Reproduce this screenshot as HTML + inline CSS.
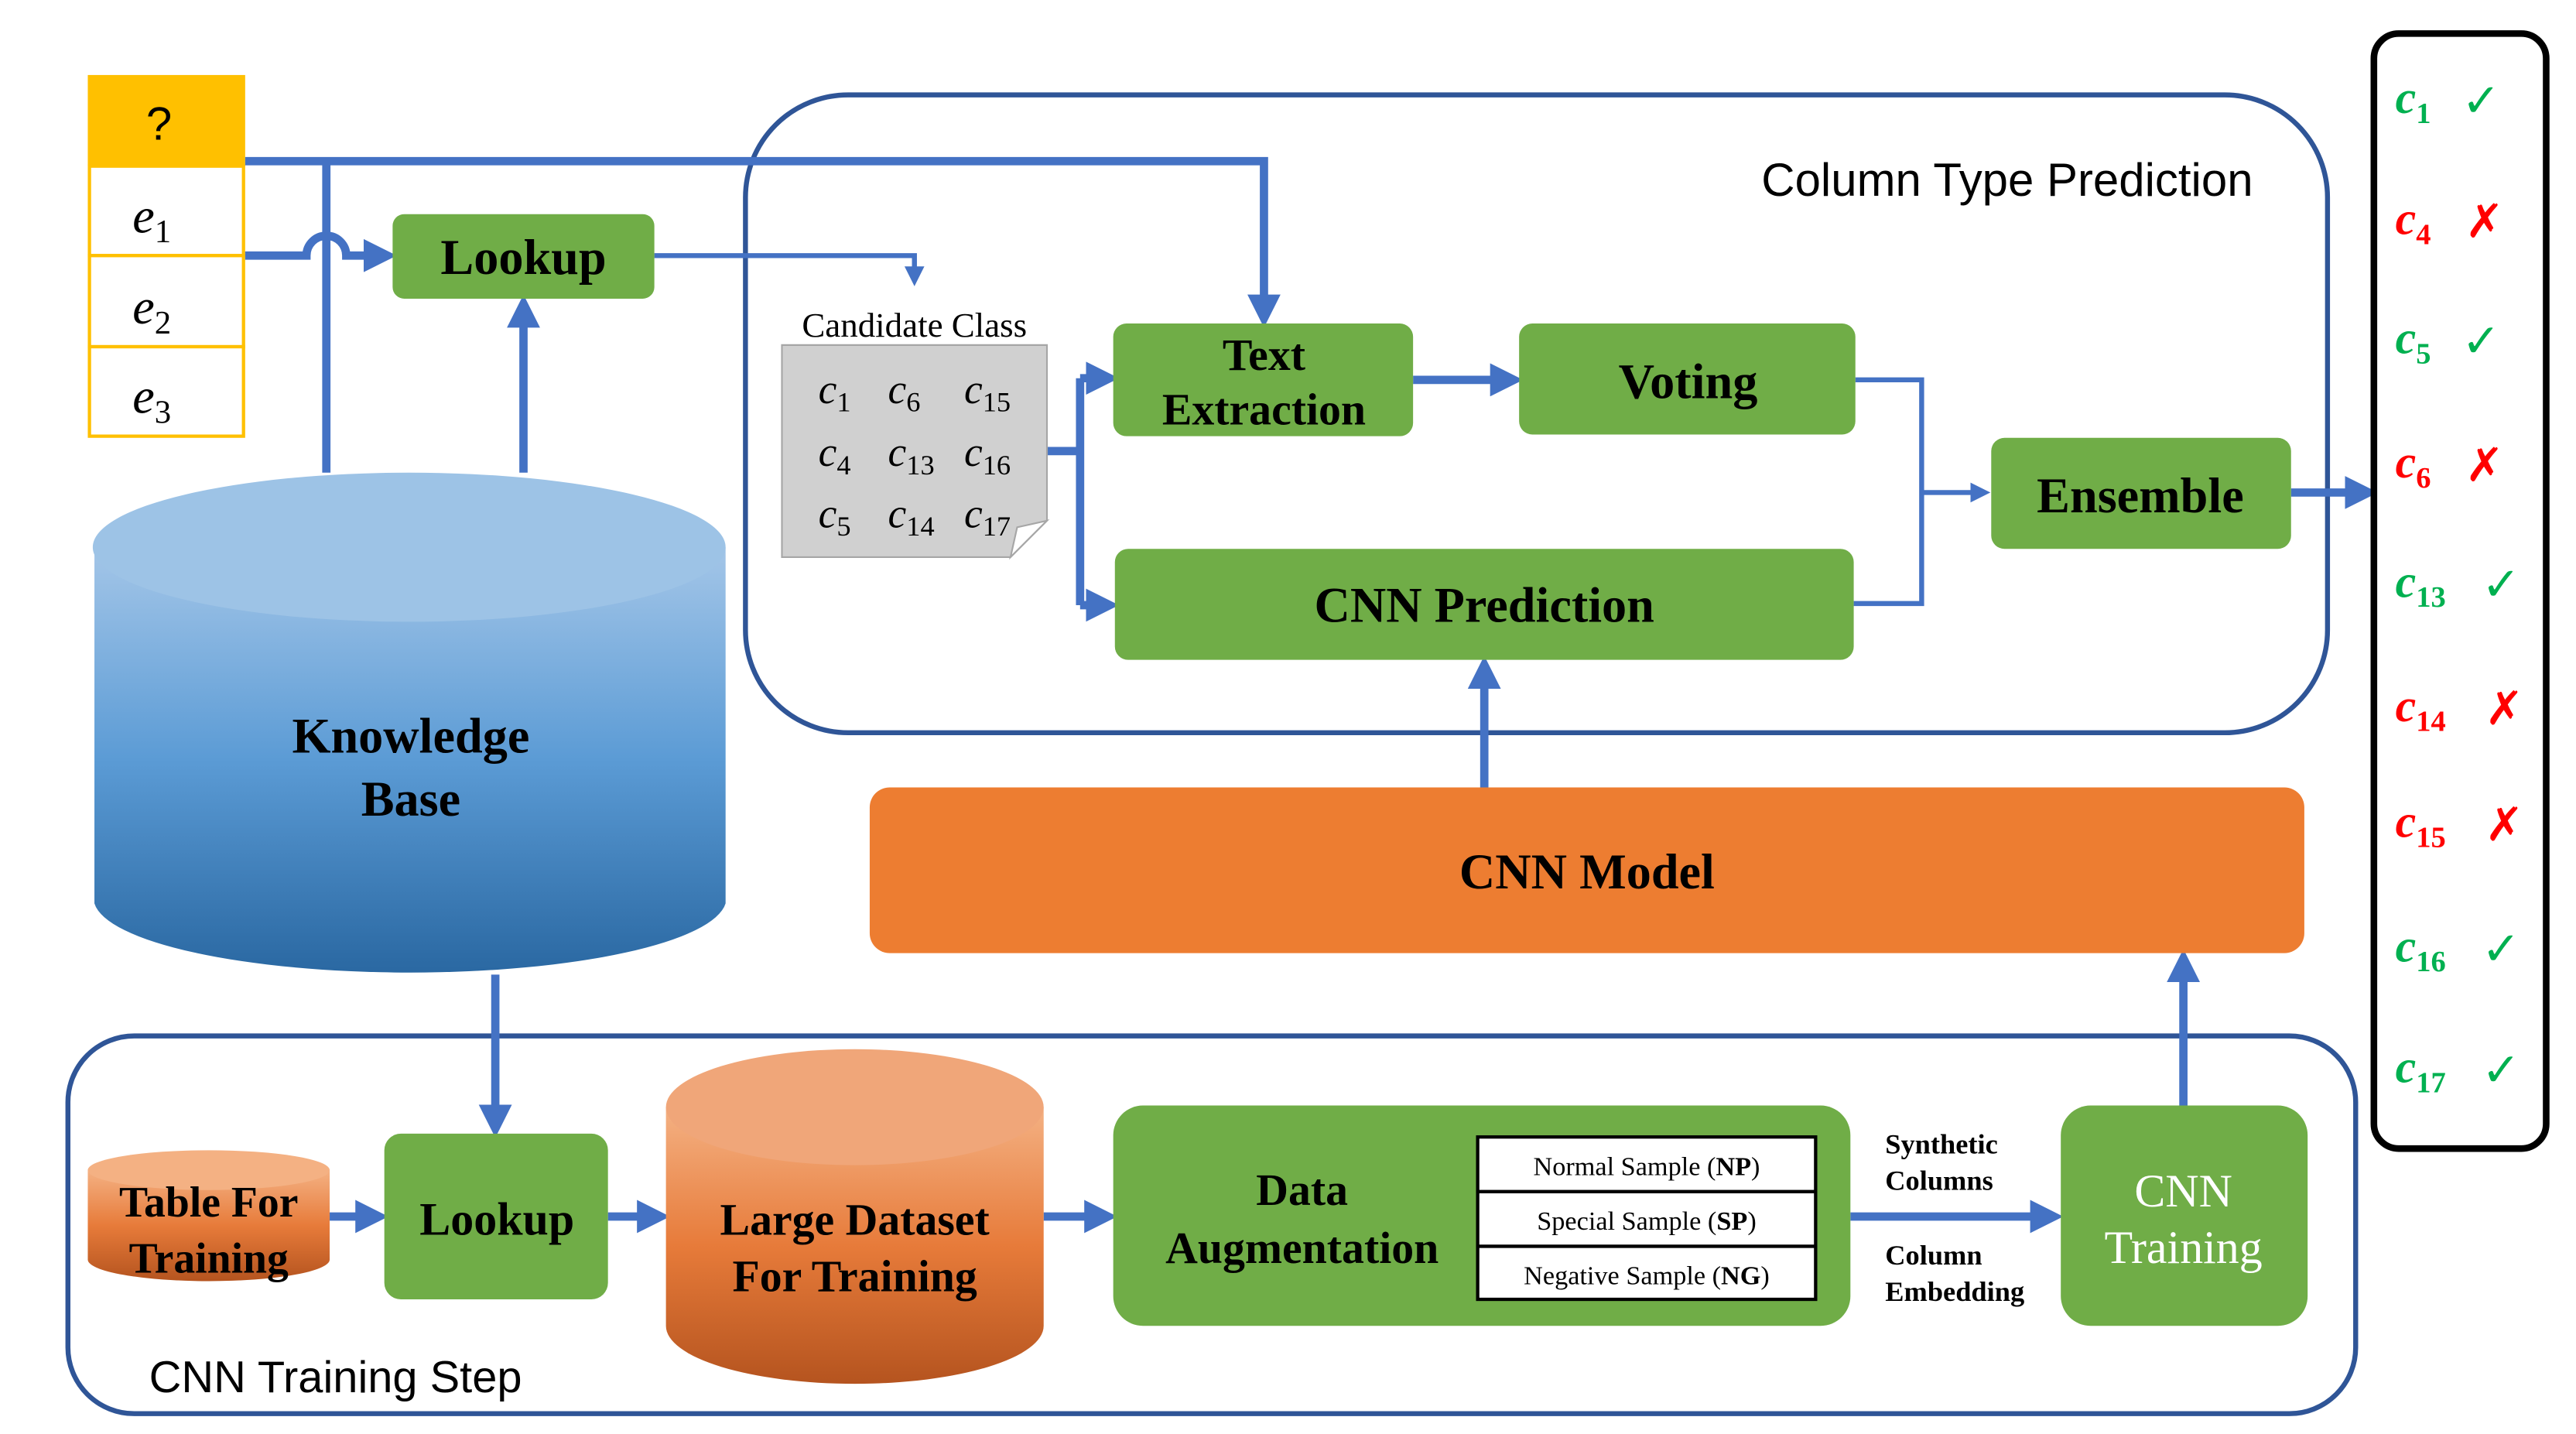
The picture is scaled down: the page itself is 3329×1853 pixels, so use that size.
<!DOCTYPE html>
<html><head><meta charset="utf-8"><style>
html,body{margin:0;padding:0;background:#fff;}
svg{display:block;}
.b{font-family:"Liberation Serif",serif;font-weight:bold;fill:#000;}
.m{font-family:"Liberation Serif",serif;font-style:italic;}
.s{font-family:"Liberation Sans",sans-serif;}
</style></head><body>
<svg width="3329" height="1853" viewBox="0 0 1555 865" xmlns="http://www.w3.org/2000/svg">
<defs>
<linearGradient id="kb" x1="0" y1="0" x2="0" y2="1"><stop offset="0" stop-color="#A4C6E8"/><stop offset="0.5" stop-color="#5B9BD5"/><stop offset="1" stop-color="#2A68A2"/></linearGradient>
<linearGradient id="or" x1="0" y1="0" x2="0" y2="1"><stop offset="0" stop-color="#F4B183"/><stop offset="0.5" stop-color="#E77B3A"/><stop offset="1" stop-color="#B5541F"/></linearGradient>
<marker id="a" markerWidth="4" markerHeight="4" refX="2.5" refY="2" orient="auto" markerUnits="strokeWidth"><path d="M0,0 L4,2 L0,4 z" fill="#4472C4"/></marker>
</defs>
<!-- panels -->
<rect x="450" y="57" width="955" height="385" rx="62" fill="none" stroke="#2F5597" stroke-width="3"/>
<text x="1360" y="118" text-anchor="end" class="s" font-size="28">Column Type Prediction</text>
<rect x="41" y="625" width="1381" height="228" rx="40" fill="none" stroke="#2F5597" stroke-width="3"/>
<text x="90" y="840" class="s" font-size="27">CNN Training Step</text>
<!-- question table -->
<rect x="53" y="45" width="95" height="55" fill="#FFC000"/>
<text x="96" y="84" text-anchor="middle" class="s" font-size="28">?</text>
<g fill="#fff" stroke="#FFC000" stroke-width="2">
<rect x="54" y="100" width="93" height="54"/><rect x="54" y="154" width="93" height="55"/><rect x="54" y="209" width="93" height="54"/></g>
<text x="80" y="140" class="m" font-size="30">e<tspan font-size="20" dy="6" font-style="normal">1</tspan></text>
<text x="80" y="195" class="m" font-size="30">e<tspan font-size="20" dy="6" font-style="normal">2</tspan></text>
<text x="80" y="249" class="m" font-size="30">e<tspan font-size="20" dy="6" font-style="normal">3</tspan></text>
<!-- knowledge base -->
<path d="M57,330 L57,545 A191,45 0 0 0 438,545 L438,330 Z" fill="url(#kb)"/>
<ellipse cx="247" cy="330" rx="191" ry="45" fill="#9DC3E6"/>
<text x="248" y="454" text-anchor="middle" class="b" font-size="30">Knowledge</text>
<text x="248" y="492" text-anchor="middle" class="b" font-size="30">Base</text>
<!-- arrows top -->
<g stroke="#4472C4" stroke-width="5" fill="none">
<path d="M148,97 L763,97 L763,190" marker-end="url(#a)"/>
<path d="M197,97 L197,285"/>
<path d="M148,154 L185,154 A12,12 0 0 1 209,154 L232,154" marker-end="url(#a)"/>
<path d="M316,285 L316,185" marker-end="url(#a)"/>
<path d="M395,154 L552,154 L552,168" stroke-width="3" marker-end="url(#a)"/>
<path d="M632,272 L652,272"/>
<path d="M652,228 L652,365"/>
<path d="M652,228 L668,228" marker-end="url(#a)"/>
<path d="M652,365 L668,365" marker-end="url(#a)"/>
<path d="M853,229 L912,229" marker-end="url(#a)"/>
<path d="M1120,229 L1160,229 L1160,364 L1119,364" stroke-width="3"/>
<path d="M1160,297 L1197,297" stroke-width="3" marker-end="url(#a)"/>
<path d="M1383,297 L1428,297" marker-end="url(#a)"/>
<path d="M896,475 L896,403" marker-end="url(#a)"/>
<path d="M299,588 L299,679" marker-end="url(#a)"/>
<path d="M199,734 L227,734" marker-end="url(#a)"/>
<path d="M367,734 L397,734" marker-end="url(#a)"/>
<path d="M630,734 L667,734" marker-end="url(#a)"/>
<path d="M1117,734 L1238,734" marker-end="url(#a)"/>
<path d="M1318,667 L1318,580" marker-end="url(#a)"/>
</g>
<!-- lookup -->
<rect x="237" y="129" width="158" height="51" rx="7" fill="#70AD47"/>
<text x="316" y="165" text-anchor="middle" class="b" font-size="30">Lookup</text>
<!-- candidate -->
<text x="552" y="203" text-anchor="middle" font-family="Liberation Serif,serif" font-size="21">Candidate Class</text>
<path d="M472,208 L632,208 L632,314 L610,336 L472,336 Z" fill="#D0D0D0" stroke="#A6A6A6"/>
<path d="M610,336 L614,318 L632,314 Z" fill="#fff" stroke="#A6A6A6"/>
<g class="m" font-size="25">
<text x="494" y="243">c<tspan font-size="17" dy="5" font-style="normal">1</tspan></text>
<text x="536" y="243">c<tspan font-size="17" dy="5" font-style="normal">6</tspan></text>
<text x="582" y="243">c<tspan font-size="17" dy="5" font-style="normal">15</tspan></text>
<text x="494" y="281">c<tspan font-size="17" dy="5" font-style="normal">4</tspan></text>
<text x="536" y="281">c<tspan font-size="17" dy="5" font-style="normal">13</tspan></text>
<text x="582" y="281">c<tspan font-size="17" dy="5" font-style="normal">16</tspan></text>
<text x="494" y="318">c<tspan font-size="17" dy="5" font-style="normal">5</tspan></text>
<text x="536" y="318">c<tspan font-size="17" dy="5" font-style="normal">14</tspan></text>
<text x="582" y="318">c<tspan font-size="17" dy="5" font-style="normal">17</tspan></text>
</g>
<!-- green boxes -->
<g fill="#70AD47">
<rect x="672" y="195" width="181" height="68" rx="8"/>
<rect x="917" y="195" width="203" height="67" rx="8"/>
<rect x="1202" y="264" width="181" height="67" rx="8"/>
<rect x="673" y="331" width="446" height="67" rx="8"/>
<rect x="232" y="684" width="135" height="100" rx="10"/>
<rect x="672" y="667" width="445" height="133" rx="18"/>
<rect x="1244" y="667" width="149" height="133" rx="18"/>
</g>
<text x="763" y="223" text-anchor="middle" class="b" font-size="27">Text</text>
<text x="763" y="256" text-anchor="middle" class="b" font-size="27">Extraction</text>
<text x="1019" y="240" text-anchor="middle" class="b" font-size="30">Voting</text>
<text x="1292" y="309" text-anchor="middle" class="b" font-size="30">Ensemble</text>
<text x="896" y="375" text-anchor="middle" class="b" font-size="30">CNN Prediction</text>
<!-- CNN model -->
<rect x="525" y="475" width="866" height="100" rx="12" fill="#ED7D31"/>
<text x="958" y="536" text-anchor="middle" class="b" font-size="30">CNN Model</text>
<!-- bottom -->
<path d="M53,706 L53,760 A73,13 0 0 0 199,760 L199,706 Z" fill="url(#or)"/>
<ellipse cx="126" cy="706" rx="73" ry="12" fill="#F4B183"/>
<text x="126" y="734" text-anchor="middle" class="b" font-size="26">Table For</text>
<text x="126" y="768" text-anchor="middle" class="b" font-size="26">Training</text>
<text x="300" y="745" text-anchor="middle" class="b" font-size="28">Lookup</text>
<path d="M402,668 L402,800 A114,35 0 0 0 630,800 L630,668 Z" fill="url(#or)"/>
<ellipse cx="516" cy="668" rx="114" ry="35" fill="#F0A679"/>
<text x="516" y="745" text-anchor="middle" class="b" font-size="27">Large Dataset</text>
<text x="516" y="779" text-anchor="middle" class="b" font-size="27">For Training</text>
<text x="786" y="727" text-anchor="middle" class="b" font-size="27">Data</text>
<text x="786" y="762" text-anchor="middle" class="b" font-size="27">Augmentation</text>
<g fill="#fff" stroke="#000" stroke-width="2">
<rect x="892" y="686" width="204" height="33"/><rect x="892" y="719" width="204" height="33"/><rect x="892" y="752" width="204" height="32"/></g>
<g font-family="Liberation Serif,serif" font-size="16" text-anchor="middle">
<text x="994" y="709">Normal Sample (<tspan font-weight="bold">NP</tspan>)</text>
<text x="994" y="742">Special Sample (<tspan font-weight="bold">SP</tspan>)</text>
<text x="994" y="775">Negative Sample (<tspan font-weight="bold">NG</tspan>)</text>
</g>
<g class="b" font-size="17">
<text x="1138" y="696">Synthetic</text><text x="1138" y="718">Columns</text>
<text x="1138" y="763">Column</text><text x="1138" y="785">Embedding</text>
</g>
<text x="1318" y="728" text-anchor="middle" font-family="Liberation Serif,serif" font-size="28" fill="#fff">CNN</text>
<text x="1318" y="762" text-anchor="middle" font-family="Liberation Serif,serif" font-size="28" fill="#fff">Training</text>
<!-- result list -->
<rect x="1433" y="20" width="104" height="673" rx="15" fill="#fff" stroke="#000" stroke-width="4"/>
<g class="m" font-size="28" font-weight="bold">
<text x="1446" y="68" fill="#00B050">c<tspan font-size="18" dy="6" font-style="normal">1</tspan></text>
<text x="1446" y="141" fill="#FF0000">c<tspan font-size="18" dy="6" font-style="normal">4</tspan></text>
<text x="1446" y="213" fill="#00B050">c<tspan font-size="18" dy="6" font-style="normal">5</tspan></text>
<text x="1446" y="288" fill="#FF0000">c<tspan font-size="18" dy="6" font-style="normal">6</tspan></text>
<text x="1446" y="360" fill="#00B050">c<tspan font-size="18" dy="6" font-style="normal">13</tspan></text>
<text x="1446" y="435" fill="#FF0000">c<tspan font-size="18" dy="6" font-style="normal">14</tspan></text>
<text x="1446" y="505" fill="#FF0000">c<tspan font-size="18" dy="6" font-style="normal">15</tspan></text>
<text x="1446" y="580" fill="#00B050">c<tspan font-size="18" dy="6" font-style="normal">16</tspan></text>
<text x="1446" y="653" fill="#00B050">c<tspan font-size="18" dy="6" font-style="normal">17</tspan></text>
</g>
<g class="s" font-size="28">
<text x="1486" y="70" fill="#00B050">✓</text>
<text x="1488" y="143" fill="#FF0000">✗</text>
<text x="1486" y="215" fill="#00B050">✓</text>
<text x="1488" y="290" fill="#FF0000">✗</text>
<text x="1498" y="362" fill="#00B050">✓</text>
<text x="1500" y="437" fill="#FF0000">✗</text>
<text x="1500" y="507" fill="#FF0000">✗</text>
<text x="1498" y="582" fill="#00B050">✓</text>
<text x="1498" y="655" fill="#00B050">✓</text>
</g>
</svg>
</body></html>
